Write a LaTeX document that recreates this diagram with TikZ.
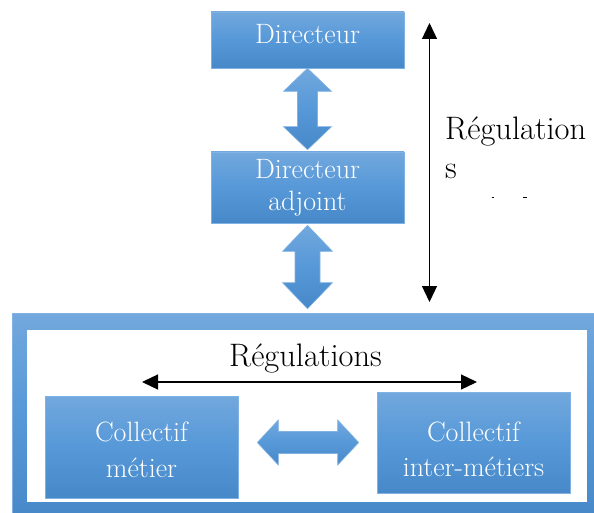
\documentclass[tikz,border=0pt]{standalone}
\usepackage{fontspec}
\usetikzlibrary{calc,arrows.meta}
\definecolor{boxtop}{RGB}{114,168,221}
\definecolor{boxmid}{RGB}{86,152,216}
\definecolor{boxbot}{RGB}{70,136,200}
\definecolor{boxline}{RGB}{128,178,228}
\newcommand\vblock[5]{%
  \path[blockshade] (#1) -- ($(#1)+(#4,#3)$) -- ($(#1)+(#5,#3)$) -- ($(#2)+(#5,-#3)$) -- ($(#2)+(#4,-#3)$) -- (#2)
    -- ($(#2)+(-#4,-#3)$) -- ($(#2)+(-#5,-#3)$) -- ($(#1)+(-#5,#3)$) -- ($(#1)+(-#4,#3)$) -- cycle;}
\newcommand\hblock[5]{%
  \path[blockshade] (#1) -- ($(#1)+(#3,-#4)$) -- ($(#1)+(#3,-#5)$) -- ($(#2)+(-#3,-#5)$) -- ($(#2)+(-#3,-#4)$) -- (#2)
    -- ($(#2)+(-#3,#4)$) -- ($(#2)+(-#3,#5)$) -- ($(#1)+(#3,#5)$) -- ($(#1)+(#3,#4)$) -- cycle;}
\begin{document}
\begin{tikzpicture}[x=1pt,y=-1pt,
  box/.style={draw=boxline, line width=0.6pt, top color=boxtop, bottom color=boxbot, middle color=boxmid,
    text=white, font=\rmfamily\fontsize{28}{32}\selectfont, align=center, inner sep=0pt},
  blockshade/.style={draw=boxline, line width=0.6pt, top color=boxtop, bottom color=boxbot, middle color=boxmid},
  thinarrow/.style={line width=1.3pt, {Triangle[length=16pt,width=15pt]}-{Triangle[length=16pt,width=15pt]}},
  lbl/.style={font=\rmfamily\fontsize{32.5}{39}\selectfont, inner sep=0pt, text=black}]
\useasboundingbox (0,0) rectangle (594,513);
% outer team frame
\node[draw=boxline, line width=0.6pt, top color=boxtop, bottom color=boxbot, middle color=boxmid,
  minimum width=590pt, minimum height=206pt, inner sep=0pt] (team) at (307,416) {};
\fill[white] ($(team.north west)+(15,17)$) rectangle ($(team.south east)+(-15,-17)$);
% boxes
\node[box, minimum width=193pt, minimum height=56pt] (dir) at (307.5,40) {Directeur\rule[-12pt]{0pt}{0pt}};
\node[box, minimum width=193pt, minimum height=71pt] (adj) at (307.5,187.5) {Directeur\\adjoint};
\node[box, minimum width=193pt, minimum height=102pt, font=\rmfamily\fontsize{28}{36}\selectfont] (met) at (141.5,447)
  {\rule{0pt}{26pt}Collectif\\métier};
\node[box, minimum width=193pt, minimum height=101pt, font=\rmfamily\fontsize{28}{35}\selectfont] (inter) at (473.5,442.5)
  {\rule{0pt}{34pt}Collectif\\inter-métiers};
% block arrows
\coordinate (a1t) at (dir.south);
\coordinate (a1b) at ($(adj.north)+(0,-2)$);
\vblock{a1t}{a1b}{23}{24}{10}
\coordinate (a2t) at ($(adj.south)+(0,2)$);
\coordinate (a2b) at ($(team.north)+(0.5,-4)$);
\vblock{a2t}{a2b}{26}{25}{12.5}
\coordinate (hL0) at ($(met.east)+(19,0)$);
\coordinate (hL) at (hL0 |- inter.west);
\coordinate (hR) at ($(inter.west)+(-18,0)$);
\hblock{hL}{hR}{21}{22.5}{11}
% thin regulation arrows
\coordinate (vt) at (429.5,23);
\coordinate (vb) at (429.5,302);
\draw[thinarrow] (vt) -- (vb);
\coordinate (hl) at (142,382);
\coordinate (hr) at (477,382);
\draw[thinarrow] (hl) -- (hr);
% labels
\node[lbl, align=left, anchor=north west] (reg1) at (445,117) {Régulation\\s};
\node[lbl, anchor=base] (reg2) at (305.5,366) {Régulations};
\draw[line width=1pt] (491.5,198) -- (494,198);
\draw[line width=1pt] (523,197.5) -- (527,197.5);
\end{tikzpicture}
\end{document}
